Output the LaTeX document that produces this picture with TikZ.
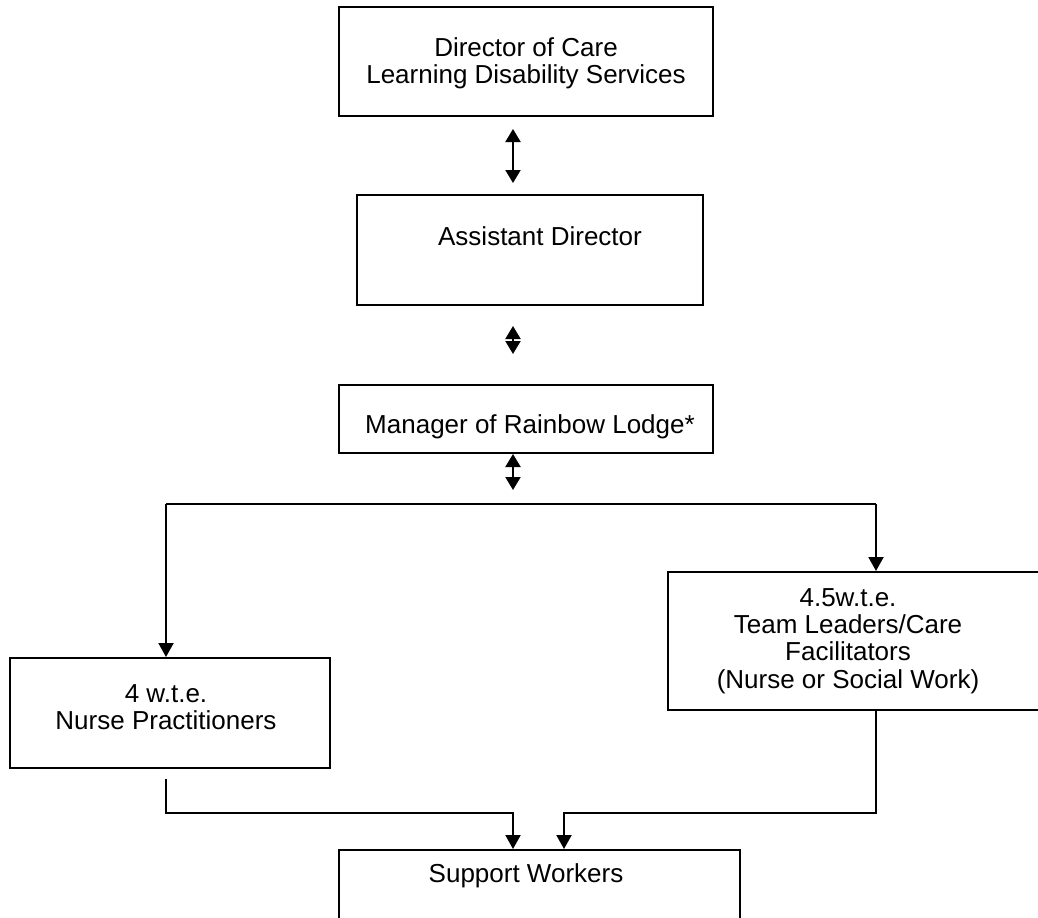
\documentclass[tikz,border=0pt]{standalone}
\usepackage{fontspec}
\setmainfont{Liberation Sans}
\usetikzlibrary{arrows.meta}
\begin{document}
\begin{tikzpicture}[x=0.5pt,y=-0.5pt,
  box/.style={draw, line width=1pt, inner sep=0pt},
  txt/.style={font=\fontsize{13}{13.7}\selectfont, align=center, inner sep=0pt},
  ln/.style={line width=1pt},
  ar/.style={line width=1pt, -{Triangle[width=7.5pt,length=7pt]}},
  dbl/.style={line width=1pt, {Triangle[width=7.5pt,length=6.5pt]}-{Triangle[width=7.5pt,length=6.5pt]}}]
\useasboundingbox (0,0) rectangle (1038,917);
% boxes
\node[box, minimum width=187pt, minimum height=54.5pt] (dir) at (526,61.5) {};
\node[box, minimum width=173pt, minimum height=55pt] (asst) at (530,250) {};
\node[box, minimum width=187pt, minimum height=34pt] (man) at (526,419) {};
\node[box, minimum width=160pt, minimum height=55pt] (nurse) at (170,713) {};
\node[box, minimum width=186pt, minimum height=69pt] (team) at (854,641) {};
\node[box, minimum width=200.5pt, minimum height=38pt] (sup) at (539.5,888) {};
% texts
\node[txt] (dirT) at (526,63) {Director of Care\\Learning Disability Services};
\node[txt, anchor=base] (asT) at (540,245) {Assistant Director};
\node[txt, anchor=base] (manT) at (530,433) {Manager of Rainbow Lodge*};
\node[txt] (nurseT) at (166,707) {4 w.t.e.\\Nurse Practitioners};
\node[txt] (teamT) at (848,641) {4.5w.t.e.\\Team Leaders/Care\\Facilitators\\(Nurse or Social Work)};
\node[txt, anchor=base] (supT) at (526,882) {Support Workers};
% connectors
\coordinate (ax) at (513,0);
\coordinate (a3e) at (513,490);
\draw[dbl, shorten <=6pt, shorten >=5.5pt] (dir.south -| ax) -- (asst.north -| ax);
\draw[dbl, shorten <=10pt, shorten >=15pt] (asst.south -| ax) -- (man.north -| ax);
\draw[dbl] (man.south -| ax) -- (a3e);
\coordinate (bl) at (166,504);
\coordinate (br) at (876,504);
\draw[ln] (bl) -- (br);
\draw[ar] (bl) -- (nurse.north -| bl);
\draw[ar] (br) -- (team.north -| br);
\coordinate (ml) at (513,813);
\coordinate (mr) at (564,813);
\coordinate (nb) at ([yshift=-5pt]nurse.south);
\draw[ar] (nb -| bl) |- (ml) -- (sup.north -| ml);
\draw[ar] (team.south -| br) |- (mr) -- (sup.north -| mr);
\end{tikzpicture}
\end{document}
